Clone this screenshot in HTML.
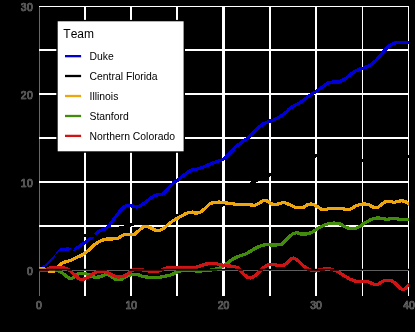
<!DOCTYPE html>
<html><head><meta charset="utf-8"><title>chart</title>
<style>html,body{margin:0;padding:0;background:#000;}svg{display:block;will-change:transform;}text{font-family:"Liberation Sans",sans-serif;font-kerning:none;}</style></head><body>
<svg width="415" height="332" viewBox="0 0 415 332">
<rect x="0" y="0" width="415" height="332" fill="#000"/>
<defs><clipPath id="p"><rect x="39" y="6" width="370" height="290"/></clipPath></defs>
<g clip-path="url(#p)">
<g fill="#fff" shape-rendering="crispEdges">
<rect x="39" y="0" width="1" height="300" fill="#686868"/>
<rect x="84" y="0" width="2" height="300"/>
<rect x="130" y="0" width="2" height="300"/>
<rect x="176" y="0" width="2" height="300"/>
<rect x="222" y="0" width="3" height="300"/>
<rect x="269" y="0" width="2" height="300"/>
<rect x="315" y="0" width="2" height="300"/>
<rect x="362" y="0" width="1" height="300"/>
<rect x="408" y="0" width="1" height="300"/>
<rect x="30" y="6" width="390" height="1"/>
<rect x="30" y="49" width="390" height="2"/>
<rect x="30" y="93" width="390" height="2"/>
<rect x="30" y="137" width="390" height="2"/>
<rect x="30" y="181" width="390" height="2"/>
<rect x="30" y="225" width="390" height="2"/>
<rect x="30" y="269" width="390" height="2"/>
</g>
<g fill="none" stroke-width="3.3" stroke-linejoin="round" stroke-linecap="butt" shape-rendering="crispEdges">
<path d="M39.6,270.4 L45.0,266.4 L52.2,259.9 L58.5,252.6 L60.2,250.3 L62.5,249.4 L67.1,249.1 L70.7,249.2 L73.6,249.5 L77.5,247.6 L81.3,244.7 L84.9,242.8 L89.1,239.4 L92.9,236.5 L96.8,232.7 L100.6,230.3 L104.9,229.0 L108.5,226.5 L112.1,221.5 L116.5,215.7 L120.8,209.9 L124.4,206.3 L128.0,205.3 L132.4,206.1 L136.8,207.0 L139.7,206.0 L144.8,202.8 L149.9,198.8 L154.2,195.6 L158.5,194.7 L162.1,194.4 L165.8,191.5 L169.4,187.2 L173.7,182.6 L178.0,180.0 L180.3,178.1 L184.7,174.5 L189.0,171.4 L192.6,169.8 L197.7,169.0 L202.0,167.6 L206.4,165.6 L212.1,163.3 L217.9,161.2 L223.0,159.4 L226.6,156.5 L230.9,152.1 L235.8,146.7 L241.6,142.4 L247.3,138.5 L253.1,133.0 L258.9,127.2 L263.3,123.9 L269.0,121.4 L274.8,119.5 L280.6,116.3 L286.4,112.0 L289.3,109.0 L293.7,105.8 L299.5,103.2 L305.2,98.9 L311.0,94.5 L316.1,91.6 L321.1,88.0 L325.5,84.4 L329.1,82.5 L334.2,81.9 L339.2,81.9 L342.8,80.1 L345.1,79.1 L350.1,74.8 L355.2,71.2 L360.2,69.0 L366.0,67.1 L371.1,64.7 L376.1,60.4 L380.5,55.3 L384.8,50.2 L389.2,45.7 L393.5,43.4 L397.2,42.6 L409.5,42.6" stroke="#0000D6"/>
<path d="M39.4,271.8 L43.5,269.4 L48.5,266.5 L55.0,259.4 L56.6,256.8 L58.0,254.4 L60.0,252.7 L64.0,252.5 L69.0,252.6 L70.8,251.6 L72.0,249.3 L73.3,246.8 L76.0,242.6 L79.0,238.6 L82.0,236.1 L85.0,235.3 L90.0,235.0 L92.5,235.3 L96.0,236.4 L98.5,236.3 L101.0,235.2 L104.0,233.6 L108.0,231.6 L112.0,230.1 L115.0,229.1 L120.0,228.0 L124.5,227.0 L127.0,226.3 L129.0,225.6 L131.0,224.3 L134.0,223.8 L138.0,223.5 L150.0,221.0 L177.5,215.2 L200.0,210.5 L223.5,204.8 L235.0,199.0 L245.0,190.0 L253.7,181.7 L262.0,177.5 L270.0,174.7 L285.0,168.0 L300.0,161.0 L316.0,155.7 L330.0,155.0 L345.0,158.0 L362.4,160.5 L380.0,160.0 L395.0,158.0 L409.5,156.5" stroke="#000"/>
<path d="M39.2,269.0 L43.0,268.6 L46.0,269.5 L49.0,271.2 L52.0,271.8 L55.0,270.8 L58.3,266.4 L61.9,263.4 L66.1,261.6 L70.9,260.4 L75.8,258.0 L82.3,254.8 L88.4,250.5 L91.8,247.0 L96.2,243.4 L101.3,240.5 L106.4,239.0 L112.1,239.0 L117.9,238.3 L122.3,235.4 L126.6,234.2 L134.7,234.4 L139.0,230.4 L143.3,226.7 L147.0,226.3 L151.3,228.2 L155.6,230.4 L160.0,230.4 L164.0,228.3 L168.8,223.9 L173.6,220.4 L177.0,218.5 L181.3,216.1 L185.7,213.7 L189.1,212.5 L192.4,212.1 L195.8,213.2 L199.2,212.7 L202.0,211.2 L206.0,207.5 L209.6,203.9 L214.0,202.4 L219.0,202.1 L223.4,202.7 L227.7,203.1 L232.0,203.6 L234.9,204.3 L244.7,204.3 L250.5,204.9 L254.8,205.3 L259.1,203.1 L262.7,200.9 L265.6,200.5 L268.5,201.6 L271.4,203.9 L275.0,204.9 L279.4,203.6 L283.7,202.4 L287.3,203.6 L290.9,205.3 L294.9,207.2 L303.6,207.2 L307.2,204.9 L310.8,203.9 L313.7,204.6 L317.3,206.7 L321.6,209.3 L326.8,209.2 L329.2,208.5 L342.5,208.5 L344.9,209.2 L350.3,209.2 L353.3,207.4 L356.9,205.4 L360.6,204.4 L363.0,203.9 L368.1,204.3 L371.7,206.5 L374.6,207.5 L378.2,207.2 L381.8,204.3 L385.4,201.7 L390.5,201.4 L394.1,202.4 L397.7,201.4 L402.0,200.7 L405.7,201.7 L409.5,204.5" stroke="#EEA60E"/>
<path d="M55.5,270.0 L58.3,270.6 L61.9,272.5 L65.5,275.5 L68.5,277.9 L71.5,278.5 L74.0,277.3 L76.4,274.9 L78.8,273.7 L82.4,273.3 L85.6,273.7 L88.6,274.9 L92.8,276.7 L95.9,277.3 L99.5,277.0 L103.1,275.5 L106.1,274.3 L108.5,274.6 L112.1,277.3 L115.1,279.1 L118.1,279.7 L121.8,279.1 L124.8,277.3 L128.4,275.5 L131.6,274.6 L138.8,274.9 L142.5,276.4 L148.5,277.3 L154.5,277.7 L159.9,277.3 L164.1,276.4 L169.0,275.5 L173.8,273.7 L177.6,271.6 L181.2,270.6 L189.7,270.7 L200.5,271.0 L210.1,270.2 L215.0,269.3 L219.8,268.3 L224.3,265.0 L228.7,262.1 L233.0,259.0 L237.3,256.8 L241.7,255.3 L246.0,253.9 L250.4,251.3 L254.7,248.7 L259.0,246.5 L263.4,245.1 L267.7,244.4 L272.0,245.1 L276.4,244.9 L281.8,244.6 L285.4,240.7 L289.7,236.4 L293.3,233.5 L297.0,232.7 L300.6,233.9 L306.4,233.9 L311.4,232.7 L315.8,229.8 L320.8,226.7 L325.6,224.6 L329.2,223.5 L334.0,223.1 L338.9,223.5 L342.5,225.3 L346.1,227.3 L349.7,228.5 L353.3,228.7 L356.9,227.9 L360.6,225.9 L364.2,223.2 L368.8,220.7 L373.9,218.2 L378.9,218.1 L383.2,218.5 L386.9,219.5 L391.2,218.5 L396.3,218.5 L399.9,219.5 L409.5,219.2" stroke="#418C0A"/>
<path d="M39.2,270.6 L46.3,270.6 L48.2,268.8 L50.5,267.8 L63.5,267.8 L66.8,268.5 L70.9,271.3 L74.6,274.9 L77.6,277.9 L80.6,279.5 L83.6,279.1 L85.6,278.5 L89.2,276.1 L92.8,273.7 L96.5,271.9 L100.1,271.0 L103.7,271.3 L107.3,272.5 L110.9,274.3 L114.5,276.1 L118.1,277.0 L121.8,276.7 L125.4,275.5 L129.0,273.1 L131.0,271.3 L133.4,269.7 L138.8,269.2 L143.7,270.1 L148.5,271.0 L153.3,271.5 L158.1,271.0 L161.7,270.0 L165.3,268.3 L169.0,267.5 L174.0,267.5 L178.8,267.8 L186.0,268.1 L193.3,268.1 L198.1,266.6 L202.9,265.1 L206.5,263.9 L211.3,263.7 L216.2,263.7 L219.8,264.5 L224.3,265.5 L228.7,266.0 L234.5,266.5 L238.1,267.9 L241.0,270.8 L243.9,274.4 L247.5,277.3 L250.4,278.0 L254.0,276.6 L257.6,273.7 L261.2,270.1 L264.1,267.2 L267.7,265.0 L271.3,264.3 L275.7,265.0 L278.9,265.8 L283.2,265.8 L286.8,263.0 L290.5,259.3 L293.6,257.9 L297.0,259.8 L300.6,263.0 L304.2,266.6 L307.1,268.7 L310.7,270.2 L315.8,270.9 L319.4,269.9 L325.2,268.7 L329.5,268.7 L333.8,270.2 L337.8,271.5 L343.6,275.3 L349.3,278.8 L355.1,281.1 L360.9,281.7 L367.7,281.7 L372.0,283.4 L374.4,284.5 L377.8,284.3 L381.2,282.1 L384.5,280.7 L388.4,280.5 L391.8,280.9 L395.1,283.1 L398.0,286.0 L400.9,288.6 L403.0,289.8 L405.3,288.6 L407.2,286.4 L409.5,284.0" stroke="#CE1414"/>
</g>
<g shape-rendering="crispEdges" fill="#000"><rect x="30" y="268" width="390" height="1" fill-opacity="0.2"/><rect x="30" y="269" width="390" height="1"/><rect x="30" y="270" width="390" height="1" fill-opacity="0.63"/></g>
</g>
<rect x="56.3" y="19.9" width="128.7" height="132.9" fill="#000"/>
<rect x="57.7" y="21.3" width="125.9" height="130" fill="#fff"/>
<text x="63.3" y="37.9" font-size="12" fill="#000">Team</text>
<rect x="65" y="55.00" width="16.1" height="2.3" fill="#0000D6"/>
<text x="89.5" y="59.8" font-size="10.4" fill="#000">Duke</text>
<rect x="65" y="74.85" width="16.1" height="2.3" fill="#000"/>
<text x="89.5" y="79.6" font-size="10.4" fill="#000">Central Florida</text>
<rect x="65" y="94.85" width="16.1" height="2.3" fill="#EEA60E"/>
<text x="89.5" y="99.6" font-size="10.4" fill="#000">Illinois</text>
<rect x="65" y="114.85" width="16.1" height="2.3" fill="#418C0A"/>
<text x="89.5" y="119.6" font-size="10.4" fill="#000">Stanford</text>
<rect x="65" y="134.75" width="16.1" height="2.3" fill="#CE1414"/>
<text x="89.5" y="139.5" font-size="10.4" fill="#000">Northern Colorado</text>
<g font-size="10.4" fill="#4D4D4D" stroke="#808080" stroke-width="0.7" stroke-linejoin="round" paint-order="stroke">
<text x="33.0" y="274.7" letter-spacing="0.3" text-anchor="end">0</text>
<text x="33.0" y="186.7" letter-spacing="0.3" text-anchor="end">10</text>
<text x="33.0" y="98.7" letter-spacing="0.3" text-anchor="end">20</text>
<text x="33.0" y="10.7" letter-spacing="0.3" text-anchor="end">30</text>
<text x="38.8" y="308.7" text-anchor="middle">0</text>
<text x="131.2" y="308.7" text-anchor="middle">10</text>
<text x="223.6" y="308.7" text-anchor="middle">20</text>
<text x="316.0" y="308.7" text-anchor="middle">30</text>
<text x="409.0" y="308.7" text-anchor="middle">40</text>
</g>
</svg></body></html>
